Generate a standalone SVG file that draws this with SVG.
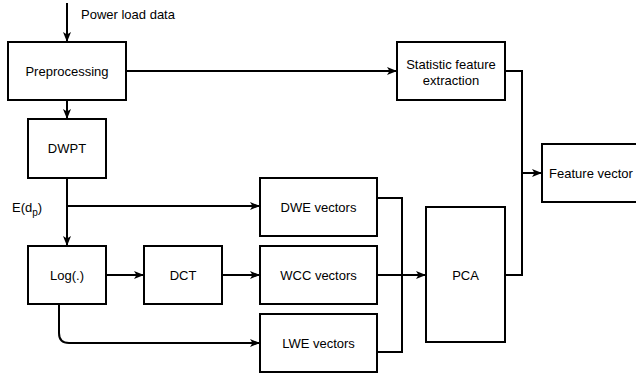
<svg xmlns="http://www.w3.org/2000/svg" width="636" height="373" viewBox="0 0 636 373">
<defs>
<marker id="arr" viewBox="0 0 10 10" refX="9" refY="5" markerWidth="10" markerHeight="10" markerUnits="userSpaceOnUse" orient="auto">
<path d="M0,1 L10,5 L0,9 L2.5,5 Z" fill="#000"/>
</marker>
</defs>
<style>
.box{fill:#fff;stroke:#000;stroke-width:2}
.t{font-family:"Liberation Sans",Arial,sans-serif;font-size:13px;fill:#000;text-anchor:middle;dominant-baseline:central}
.l{font-family:"Liberation Sans",Arial,sans-serif;font-size:13px;fill:#000}
.c{fill:none;stroke:#000;stroke-width:2}
</style>
<rect width="636" height="373" fill="#fff"/>
<g id="connectors">
<path class="c" d="M67,3 L67,41" marker-end="url(#arr)"/>
<path class="c" d="M67,100 L67,118" marker-end="url(#arr)"/>
<path class="c" d="M126,71 L396,71" marker-end="url(#arr)"/>
<path class="c" d="M67,178 L67,245" marker-end="url(#arr)"/>
<path class="c" d="M67,206 L259,206" marker-end="url(#arr)"/>
<path class="c" d="M106,275 L143,275" marker-end="url(#arr)"/>
<path class="c" d="M222,275 L259,275" marker-end="url(#arr)"/>
<path class="c" d="M59,304 L59,333 Q59,343 69,343 L259,343" marker-end="url(#arr)"/>
<path class="c" d="M377,198 L402,198 L402,352 L377,352"/>
<path class="c" d="M377,275 L425,275" marker-end="url(#arr)"/>
<path class="c" d="M505,71 L522,71 L522,275 L505,275"/>
<path class="c" d="M522,173 L541,173" marker-end="url(#arr)"/>
</g>
<g id="label-power"><text class="l" x="81" y="19">Power load data</text></g>
<g id="label-edp"><text class="l" x="12" y="212">E(d<tspan font-size="10" dy="4">p</tspan><tspan dy="-4">)</tspan></text></g>
<g id="preprocessing"><rect class="box" x="8" y="42" width="118" height="58"/><text class="t" x="67" y="71">Preprocessing</text></g>
<g id="dwpt"><rect class="box" x="28" y="119" width="78" height="59"/><text class="t" x="67" y="148">DWPT</text></g>
<g id="log"><rect class="box" x="28" y="246" width="78" height="58"/><text class="t" x="67" y="275">Log(.)</text></g>
<g id="dct"><rect class="box" x="144" y="246" width="78" height="58"/><text class="t" x="183" y="275">DCT</text></g>
<g id="dwe"><rect class="box" x="260" y="178" width="117" height="58"/><text class="t" x="318.5" y="207">DWE vectors</text></g>
<g id="wcc"><rect class="box" x="260" y="246" width="117" height="58"/><text class="t" x="318.5" y="275">WCC vectors</text></g>
<g id="lwe"><rect class="box" x="260" y="314" width="117" height="58"/><text class="t" x="318.5" y="343">LWE vectors</text></g>
<g id="pca"><rect class="box" x="426" y="207" width="79" height="135"/><text class="t" x="465.5" y="275">PCA</text></g>
<g id="stat"><rect class="box" x="397" y="42" width="108" height="58"/><text class="t" x="451" y="64">Statistic feature</text><text class="t" x="451" y="80">extraction</text></g>
<g id="feature"><rect class="box" x="542" y="144" width="100" height="58"/><text class="t" x="591" y="173">Feature vector</text></g>
</svg>
